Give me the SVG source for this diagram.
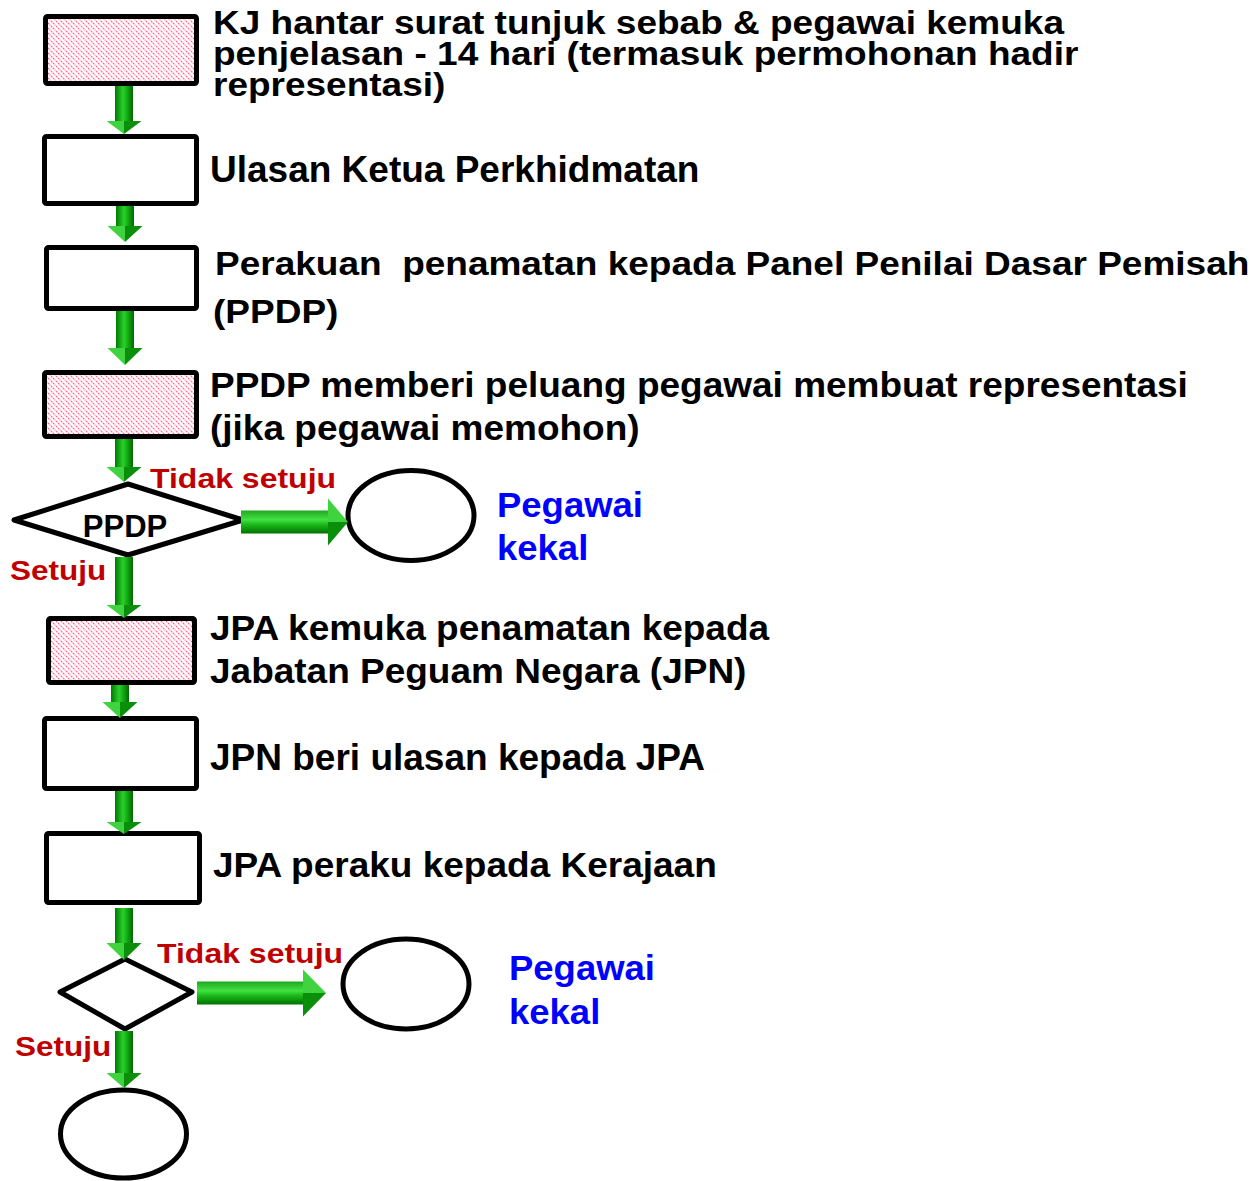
<svg xmlns="http://www.w3.org/2000/svg" width="1258" height="1181" viewBox="0 0 1258 1181">
<style>
.box{fill:#fff;stroke:#000;stroke-width:5;stroke-linejoin:round}
.hatch{fill:url(#hatch)}
.shape{fill:#fff;stroke:#000;stroke-width:5;stroke-linejoin:round}
.t{font-family:"Liberation Sans",Arial,sans-serif;font-weight:bold;font-size:37px;fill:#000}
.lbl{font-family:"Liberation Sans",Arial,sans-serif;font-weight:bold;font-size:32px;fill:#C00000}
.blue{font-family:"Liberation Sans",Arial,sans-serif;font-weight:bold;font-size:36.5px;fill:#0000FF}
.vs{fill:url(#gv)}
.vhl{fill:#3fd33f}
.vhr{fill:#0a8f0a}
.hs{fill:url(#gh)}
.hht{fill:#3fd33f}
.hhb{fill:#0a8f0a}
</style>
<defs>
<pattern id="hatch" patternUnits="userSpaceOnUse" width="5" height="5">
<rect width="5" height="5" fill="#fff"/>
<path d="M-1,-1 L6,6 M-1,4 L1,6 M4,-1 L6,1" stroke="#ff5c8e" stroke-width="1.1" stroke-dasharray="2 0.8"/>
</pattern>
<linearGradient id="gv" x1="0" y1="0" x2="1" y2="0">
<stop offset="0" stop-color="#007a00"/>
<stop offset="0.45" stop-color="#2ccf2c"/>
<stop offset="0.6" stop-color="#18b818"/>
<stop offset="1" stop-color="#006b00"/>
</linearGradient>
<linearGradient id="gh" x1="0" y1="0" x2="0" y2="1">
<stop offset="0" stop-color="#1fa81f"/>
<stop offset="0.4" stop-color="#44e044"/>
<stop offset="0.6" stop-color="#1cbc1c"/>
<stop offset="1" stop-color="#007000"/>
</linearGradient>
</defs>
<rect width="1258" height="1181" fill="#fff"/>

<g id="node1">
<rect class="box hatch" x="45.5" y="16.5" width="151" height="67" rx="2" style="stroke:#000;stroke-width:5"/>
<text class="t" transform="translate(213,34) scale(1,0.9)">KJ hantar surat tunjuk sebab &amp; pegawai kemuka</text>
<text class="t" transform="translate(213,65) scale(1,0.9)">penjelasan - 14 hari (termasuk permohonan hadir</text>
<text class="t" transform="translate(213,96) scale(1,0.9)">representasi)</text>
</g>
<g id="node2">
<rect class="box" x="44.5" y="136.5" width="152" height="67" rx="2"/>
<text class="t" x="210" y="182">Ulasan Ketua Perkhidmatan</text>
</g>
<g id="node3">
<rect class="box" x="46.5" y="247.5" width="150" height="61" rx="2"/>
<text class="t" transform="translate(215,275) scale(1,0.92)" xml:space="preserve">Perakuan  penamatan kepada Panel Penilai Dasar Pemisah</text>
<text class="t" transform="translate(213,323) scale(1,0.92)">(PPDP)</text>
</g>
<g id="node4">
<rect class="box hatch" x="44.5" y="372.5" width="152" height="64" rx="2" style="stroke:#000;stroke-width:5"/>
<text class="t" transform="translate(210,397) scale(1,0.95)">PPDP memberi peluang pegawai membuat representasi</text>
<text class="t" transform="translate(210,440) scale(1,0.95)">(jika pegawai memohon)</text>
</g>
<g id="decision1">
<polygon class="shape" points="14,520 128,484 243,520 128,555"/>
<text class="t" x="125" y="537" text-anchor="middle" style="font-size:31px">PPDP</text>
</g>
<g id="end1">
<ellipse class="shape" cx="411" cy="515.5" rx="63" ry="45"/>
<text class="blue" transform="translate(497,517) scale(1,0.95)">Pegawai</text>
<text class="blue" transform="translate(497,560) scale(1,0.95)">kekal</text>
</g>
<g id="node5">
<rect class="box hatch" x="48.5" y="618.5" width="146" height="64" rx="2" style="stroke:#000;stroke-width:5"/>
<text class="t" transform="translate(210,640) scale(1,0.94)">JPA kemuka penamatan kepada</text>
<text class="t" transform="translate(210,683) scale(1,0.94)">Jabatan Peguam Negara (JPN)</text>
</g>
<g id="node6">
<rect class="box" x="44.5" y="718.5" width="152" height="70" rx="2"/>
<text class="t" x="210" y="770">JPN beri ulasan kepada JPA</text>
</g>
<g id="node7">
<rect class="box" x="46.5" y="833.5" width="153" height="69" rx="2"/>
<text class="t" transform="translate(213,877) scale(1,0.95)">JPA peraku kepada Kerajaan</text>
</g>
<g id="decision2">
<polygon class="shape" points="60,992 125,959 192,992 125,1029"/>
</g>
<g id="end2">
<ellipse class="shape" cx="406" cy="984" rx="63" ry="45"/>
<text class="blue" transform="translate(509,980) scale(1,0.95)">Pegawai</text>
<text class="blue" transform="translate(509,1024) scale(1,0.95)">kekal</text>
</g>
<g id="end3">
<ellipse class="shape" cx="123.5" cy="1134" rx="63" ry="44"/>
</g>

<g id="connectors">
<rect class="vs" x="115" y="86" width="18" height="36"/>
<polygon class="vhl" points="106.5,121 124,121 124,134"/><polygon class="vhr" points="124,121 141.5,121 124,134"/>
<rect class="vs" x="116" y="206" width="18" height="21"/>
<polygon class="vhl" points="107.5,226 125,226 125,242"/><polygon class="vhr" points="125,226 142.5,226 125,242"/>
<rect class="vs" x="116" y="311" width="18" height="38"/>
<polygon class="vhl" points="107.5,348 125,348 125,365"/><polygon class="vhr" points="125,348 142.5,348 125,365"/>
<rect class="vs" x="115" y="439" width="18" height="29"/>
<polygon class="vhl" points="106.5,467 124,467 124,482"/><polygon class="vhr" points="124,467 141.5,467 124,482"/>
<rect class="vs" x="115" y="557" width="18" height="49"/>
<polygon class="vhl" points="106.5,605 124,605 124,618"/><polygon class="vhr" points="124,605 141.5,605 124,618"/>
<rect class="vs" x="111" y="685" width="18" height="18"/>
<polygon class="vhl" points="102.5,702 120,702 120,718"/><polygon class="vhr" points="120,702 137.5,702 120,718"/>
<rect class="vs" x="115" y="791" width="18" height="32"/>
<polygon class="vhl" points="106.5,822 124,822 124,834"/><polygon class="vhr" points="124,822 141.5,822 124,834"/>
<rect class="vs" x="115" y="908" width="18" height="36"/>
<polygon class="vhl" points="106.5,943 124,943 124,960"/><polygon class="vhr" points="124,943 141.5,943 124,960"/>
<rect class="vs" x="115" y="1031" width="18" height="43"/>
<polygon class="vhl" points="106.5,1073 124,1073 124,1088"/><polygon class="vhr" points="124,1073 141.5,1073 124,1088"/>
<rect class="hs" x="241" y="510.5" width="88" height="23"/>
<polygon class="hht" points="328,498.5 328,522 348,522"/><polygon class="hhb" points="328,522 328,545.5 348,522"/>
<rect class="hs" x="197" y="981.5" width="107" height="23"/>
<polygon class="hht" points="303,969.5 303,993 326,993"/><polygon class="hhb" points="303,993 303,1016.5 326,993"/>
<text class="lbl" transform="translate(150,488) scale(1,0.85)">Tidak setuju</text>
<text class="lbl" transform="translate(10,580) scale(1,0.85)" style="font-size:31.5px">Setuju</text>
<text class="lbl" transform="translate(157,963) scale(1,0.85)">Tidak setuju</text>
<text class="lbl" transform="translate(15,1056) scale(1,0.85)" style="font-size:31.5px">Setuju</text>
</g>
</svg>
